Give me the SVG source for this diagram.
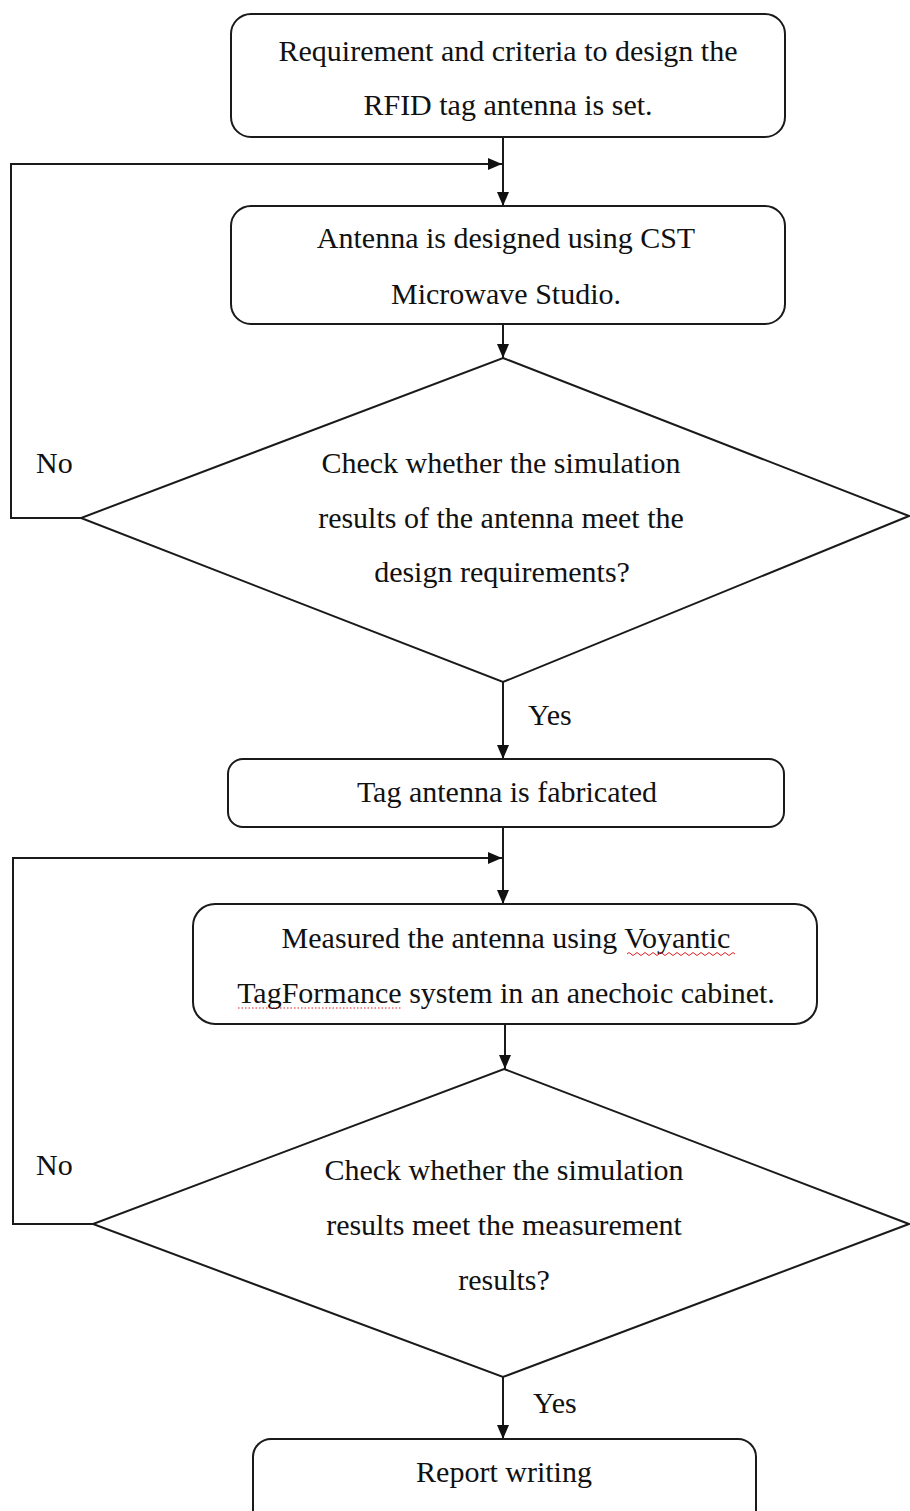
<svg xmlns="http://www.w3.org/2000/svg" width="910" height="1511" viewBox="0 0 910 1511">
<style>
.box{fill:#fff;stroke:#1a1a1a;stroke-width:2}
.t{font-family:"Liberation Serif","Times New Roman",serif;font-size:30px;fill:#111;text-anchor:middle}
.l{font-family:"Liberation Serif","Times New Roman",serif;font-size:30px;fill:#111}
.c{fill:none;stroke:#1a1a1a;stroke-width:2}
</style>
<defs>
<marker id="ah" markerUnits="userSpaceOnUse" markerWidth="14" markerHeight="12" refX="14" refY="6" orient="auto">
<path d="M0,0 L14,6 L0,12 z" fill="#111"/>
</marker>
</defs>
<rect width="910" height="1511" fill="#fff"/>
<g id="connectors">
<path class="c" d="M503,137 L503,206" marker-end="url(#ah)"/>
<path class="c" d="M81,518 L11,518 L11,164 L502,164" marker-end="url(#ah)"/>
<path class="c" d="M503,324 L503,358" marker-end="url(#ah)"/>
<path class="c" d="M503,682 L503,759" marker-end="url(#ah)"/>
<path class="c" d="M503,827 L503,904" marker-end="url(#ah)"/>
<path class="c" d="M93,1224 L13,1224 L13,858 L502,858" marker-end="url(#ah)"/>
<path class="c" d="M505,1024 L505,1069" marker-end="url(#ah)"/>
<path class="c" d="M503,1377 L503,1439" marker-end="url(#ah)"/>
<text class="l" x="36" y="473">No</text>
<text class="l" x="528" y="725">Yes</text>
<text class="l" x="36" y="1175">No</text>
<text class="l" x="533" y="1413">Yes</text>
</g>
<g id="n1">
<rect class="box" x="231" y="14" width="554" height="123" rx="20"/>
<text class="t" x="508" y="61">Requirement and criteria to design the</text>
<text class="t" x="508" y="115">RFID tag antenna is set.</text>
</g>
<g id="n2">
<rect class="box" x="231" y="206" width="554" height="118" rx="20"/>
<text class="t" x="506" y="248">Antenna is designed using CST</text>
<text class="t" x="506" y="304">Microwave Studio.</text>
</g>
<g id="d1">
<polygon class="box" points="503,358 909,516 503,682 81,518"/>
<text class="t" x="501" y="473">Check whether the simulation</text>
<text class="t" x="501" y="528">results of the antenna meet the</text>
<text class="t" x="502" y="582">design requirements?</text>
</g>
<g id="n3">
<rect class="box" x="228" y="759" width="556" height="68" rx="15"/>
<text class="t" x="507" y="802">Tag antenna is fabricated</text>
</g>
<g id="n4">
<rect class="box" x="193" y="904" width="624" height="120" rx="22"/>
<text class="t" x="506" y="948">Measured the antenna using Voyantic</text>
<text class="t" x="506" y="1003">TagFormance system in an anechoic cabinet.</text>
<path d="M627,954 q2,-3 4,0 t4,0 t4,0 t4,0 t4,0 t4,0 t4,0 t4,0 t4,0 t4,0 t4,0 t4,0 t4,0 t4,0 t4,0 t4,0 t4,0 t4,0 t4,0 t4,0 t4,0 t4,0 t4,0 t4,0 t4,0 t4,0 t4,0" fill="none" stroke="#e02020" stroke-width="1"/>
<path d="M238,1008 L402,1008" fill="none" stroke="#e02020" stroke-width="1.2" stroke-dasharray="1.5,2"/>
</g>
<g id="d2">
<polygon class="box" points="504,1069 909,1224 503,1377 93,1224"/>
<text class="t" x="504" y="1180">Check whether the simulation</text>
<text class="t" x="504" y="1235">results meet the measurement</text>
<text class="t" x="504" y="1290">results?</text>
</g>
<g id="n5">
<rect class="box" x="253" y="1439" width="503" height="100" rx="18"/>
<text class="t" x="504" y="1482">Report writing</text>
</g>
</svg>
